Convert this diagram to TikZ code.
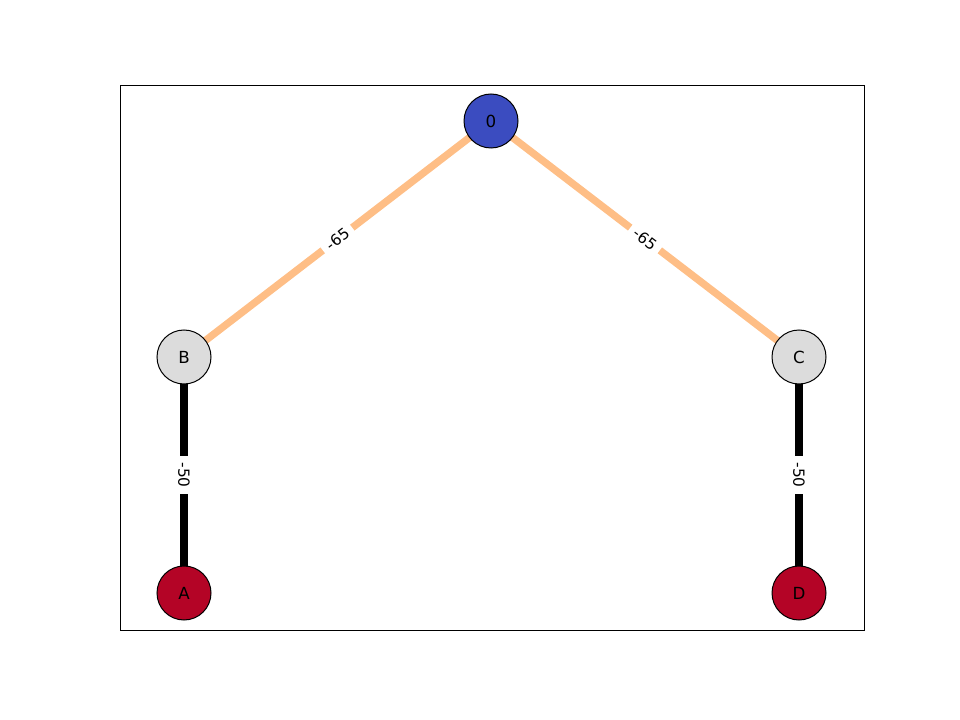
\documentclass[tikz,border=0pt]{standalone}
\usepackage{fontspec}
\setmainfont{DejaVu Sans}
\definecolor{nblue}{HTML}{3B4CC0}
\definecolor{nred}{HTML}{B40426}
\definecolor{ngray}{HTML}{DCDCDC}
\definecolor{eorange}{HTML}{FEBE86}
\begin{document}
\begin{tikzpicture}[x=0.75pt,y=-0.75pt,
  vtx/.style={circle,draw=black,line width=0.75pt,minimum size=40.5pt,inner sep=0pt,font=\fontsize{12.5}{14}\selectfont},
  oedge/.style={draw=eorange,line width=5.5pt},
  kedge/.style={draw=black,line width=5.5pt},
  elab/.style={fill=white,inner xsep=4.5pt,inner ysep=2.5pt,font=\fontsize{11.5}{13}\selectfont}]
\useasboundingbox (0,0) rectangle (960,720);
\draw[line width=0.75pt] (120,86) rectangle (864,630);
\coordinate (p0) at (491,121);
\coordinate (pB) at (184,357);
\coordinate (pC) at (799,357);
\coordinate (pA) at (184,593);
\coordinate (pD) at (799,593);
\draw[oedge] (pB) -- node[elab,sloped] {-65} (p0);
\draw[oedge] (p0) -- node[elab,sloped] {-65} (pC);
\draw[kedge] (pB) -- node[elab,rotate=-90] {-50} (pA);
\draw[kedge] (pC) -- node[elab,rotate=-90] {-50} (pD);
\node[vtx,fill=nblue] (n0) at (p0) {0};
\node[vtx,fill=ngray] (nB) at (pB) {B};
\node[vtx,fill=ngray] (nC) at (pC) {C};
\node[vtx,fill=nred] (nA) at (pA) {A};
\node[vtx,fill=nred] (nD) at (pD) {D};
\end{tikzpicture}
\end{document}
